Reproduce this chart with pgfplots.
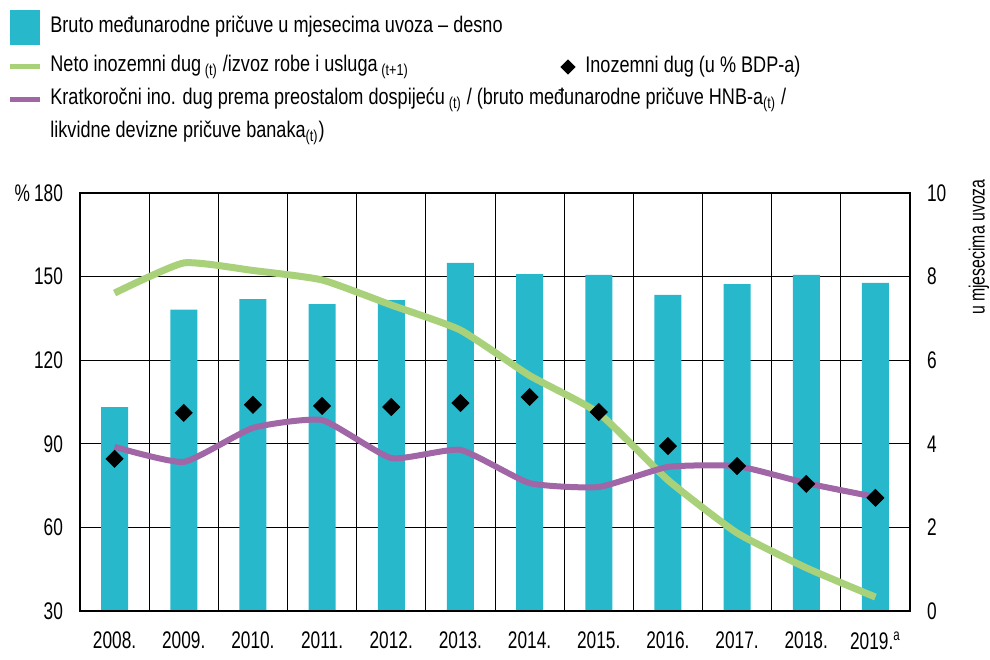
\documentclass[border=0pt]{standalone}
\usepackage{pgfplots}
\pgfplotsset{compat=1.18}
\usepackage{fontspec}
\setmainfont{Liberation Sans}[FakeStretch=0.72]
\newfontfamily\legfont{Liberation Sans}[FakeStretch=0.8]
\definecolor{barc}{HTML}{27B8CC}
\definecolor{greenc}{HTML}{A8D17A}
\definecolor{purplec}{HTML}{A066A6}
\begin{document}
\begin{tikzpicture}[x=1pt,y=1pt]
\useasboundingbox (0,0) rectangle (495,329.5);
\pgfplotsset{base/.style={at={(40pt,24pt)}, anchor=south west, scale only axis,
  width=415pt, height=209pt, xmin=-0.5, xmax=11.5,
  /pgf/number format/assume math mode=true,
  tick label style={font=\fontsize{12}{12}\selectfont}}}
% grid + left ticks + x labels
\begin{axis}[base, ymin=30, ymax=180, ytick={30,60,...,180},
  yticklabels={30,60,90,120,150,\%\,180},
  ymajorgrids, major grid style={black, line width=0.5pt},
  xtick={0,...,11},
  xticklabels={2008.,2009.,2010.,2011.,2012.,2013.,2014.,2015.,2016.,2017.,2018.,2019.\textsuperscript{a}},
  minor xtick={0.5,1.5,...,10.5}, xminorgrids, minor grid style={black, line width=0.5pt},
  major tick length=0pt, minor tick length=0pt,
  axis line style={draw=none},
  yticklabel style={xshift=-5pt},
  xticklabel style={yshift=-7pt}]
\addplot[draw=none] coordinates {(0,30)};
\end{axis}
% bars on right scale
\begin{axis}[base, ymin=0, ymax=10, axis y line*=right, axis x line=none,
  ytick={0,2,...,10}, major tick length=0pt,
  axis line style={draw=none},
  yticklabel style={xshift=5pt}]
\addplot[ybar, bar width=13.5pt, fill=barc, draw=none] coordinates {
(0,4.88) (1,7.21) (2,7.46) (3,7.34) (4,7.44) (5,8.33)
(6,8.06) (7,8.04) (8,7.56) (9,7.82) (10,8.04) (11,7.85)};
\end{axis}
% lines, diamonds and frame
\begin{axis}[base, ymin=30, ymax=180, xtick=\empty, ytick=\empty,
  axis line style={black, line width=1pt}]
\addplot[greenc, line width=3.5pt, smooth, tension=0.3] coordinates {
(0,144.1) (1,154.9) (2,152.2) (3,148.8) (4,139.8) (5,130.8)
(6,114.5) (7,101) (8,77) (9,58) (10,45.5) (11,35)};
\addplot[purplec, line width=3pt, smooth, tension=0.3] coordinates {
(0,88.9) (1,83.5) (2,95.7) (3,98.5) (4,84.9) (5,87.8)
(6,75.9) (7,74.5) (8,81.7) (9,82) (10,75.9) (11,70.9)};
\addplot[only marks, mark=square*, mark size=3pt, mark options={rotate=45, fill=black, draw=black}] coordinates {
(0,84.6) (1,101.1) (2,104) (3,103.6) (4,103.2) (5,104.6)
(6,106.8) (7,101.4) (8,89.2) (9,82) (10,75.6) (11,70.6)};
\draw[line width=1.5pt] (rel axis cs:0,0) -- (rel axis cs:1,0);
\end{axis}
% right axis title
\node[rotate=90, anchor=east, inner sep=0pt, font=\fontsize{11}{11}\selectfont] at (489.5,240) {u mjesecima uvoza};
% legend
\tikzset{leg/.style={anchor=west, inner sep=0pt, font=\legfont\fontsize{11.3}{12}\selectfont}}
\fill[barc] (5,307) rectangle (20,324.5);
\node[leg] at (25,316) {Bruto međunarodne pričuve u mjesecima uvoza – desno};
\draw[greenc, line width=2.5pt] (5,296) -- (20,296);
\node[leg] at (25,296) {Neto inozemni dug\,\textsubscript{(t)} /izvoz robe i usluga\,\textsubscript{(t+1)}};
\fill[black] (284,292.2) -- (287.8,296) -- (284,299.8) -- (280.2,296) -- cycle;
\node[leg] at (292.5,296) {Inozemni dug (u \% BDP-a)};
\draw[purplec, line width=2.5pt] (5,279.5) -- (20,279.5);
\node[leg] at (25,279.5) {Kratkoročni ino. dug prema preostalom dospijeću\,\textsubscript{(t)} / (bruto međunarodne pričuve HNB-a\textsubscript{(t)} /};
\node[leg] at (25,263) {likvidne devizne pričuve banaka\textsubscript{(t)})};
\end{tikzpicture}
\end{document}
